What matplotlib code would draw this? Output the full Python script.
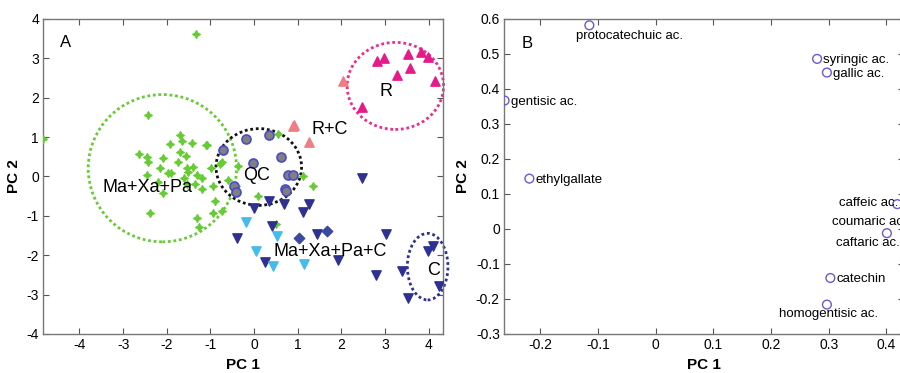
import matplotlib
matplotlib.use("Agg")
import matplotlib.pyplot as plt
from matplotlib.patches import Ellipse

plt.rcParams['font.family'] = ['Liberation Sans', 'DejaVu Sans']
plt.rcParams['axes.unicode_minus'] = False

# Panel A - scores
stars_x = [-1.34, -4.83, -2.43, -1.70, -1.66, -1.93, -1.43, -1.10, -1.70, -2.64, -2.45, -2.08,
           -1.57, -1.74, -2.42, -2.16, -1.54, -1.39, -1.97, -1.91, -2.46, -1.51, -1.31, -1.19,
           -0.99, -0.74, -1.54, -1.35, -2.08, -1.19, -0.95, -0.89, -0.59, -2.39, -1.31, -0.93,
           -0.74, -1.25, 0.10, 0.50, 1.35, 1.13, 0.56, -0.36, -0.78, -1.08, -0.42, -1.60, -2.20]
stars_y = [3.63, 0.94, 1.55, 1.05, 0.90, 0.83, 0.85, 0.81, 0.62, 0.58, 0.49, 0.47,
           0.52, 0.38, 0.37, 0.21, 0.21, 0.24, 0.08, 0.08, 0.03, 0.11, 0.03, -0.03,
           0.21, 0.37, -0.19, -0.19, -0.42, -0.31, -0.23, -0.61, -0.08, -0.93, -1.06, -0.93,
           -0.87, -1.29, -0.50, -1.21, -0.23, 0.01, 1.07, 0.26, 0.32, 0.81, -0.25, -0.05, -0.15]

qc_x = [-0.70, -0.18, 0.35, -0.02, 0.62, 0.77, 0.90, 0.70, 0.73, -0.45, -0.41]
qc_y = [0.66, 0.96, 1.06, 0.35, 0.49, 0.03, 0.03, -0.31, -0.38, -0.25, -0.40]

navy_x = [0.35, 0.69, 0.00, 1.25, 1.13, 0.41, -0.38, 1.45, 3.02, 0.25, 1.93, 2.80,
          3.40, 3.54, 3.98, 4.10, 4.25, 2.47]
navy_y = [-0.63, -0.70, -0.81, -0.70, -0.89, -1.27, -1.56, -1.46, -1.46, -2.17, -2.11, -2.51,
          -2.41, -3.08, -1.90, -1.76, -2.78, -0.03]

diam_x = [1.02, 1.67]
diam_y = [-1.55, -1.39]

light_x = [-0.18, 0.52, 0.05, 0.44, 1.15]
light_y = [-1.15, -1.50, -1.89, -2.27, -2.21]

pink_x = [2.83, 2.97, 3.52, 3.82, 3.98, 3.58, 3.27, 4.14, 2.48]
pink_y = [2.93, 3.00, 3.10, 3.17, 3.04, 2.76, 2.59, 2.42, 1.77]

salmon_x = [2.03, 0.89, 0.92, 1.25]
salmon_y = [2.42, 1.27, 1.30, 0.87]

# Panel B - loadings
load_names = ['protocatechuic ac.', 'syringic ac.', 'gallic ac.', 'gentisic ac.', 'ethylgallate',
              'caffeic ac.', 'coumaric ac.', 'caftaric ac.', 'catechin', 'homogentisic ac.']
load_x = [-0.115, 0.280, 0.297, -0.262, -0.219, 0.419, 0.445, 0.401, 0.303, 0.297]
load_y = [0.582, 0.486, 0.447, 0.367, 0.144, 0.071, 0.021, -0.012, -0.140, -0.216]

fig = plt.figure(figsize=(9, 3.73), dpi=100)
axA = fig.add_axes([0.0481, 0.1046, 0.4445, 0.8445])
axB = fig.add_axes([0.5600, 0.1046, 0.4440, 0.8445])

for ax in (axA, axB):
    ax.tick_params(direction='in', top=True, right=True, labelsize=10, length=4,
                   color='#555555', pad=3)
    for s in ax.spines.values():
        s.set_color('#777777')
        s.set_linewidth(1.0)

# ---- A ----
axA.scatter(stars_x, stars_y, marker=(4, 1, 0), s=30, color='#66cc33', zorder=3)
axA.scatter(qc_x, qc_y, marker='o', s=42, facecolor='#808080', edgecolor='#4a4acc',
            linewidth=1.2, zorder=4)
axA.scatter(navy_x, navy_y, marker='v', s=45, color='#2e3192', zorder=3)
axA.scatter(diam_x, diam_y, marker='D', s=28, color='#3a4aa0', zorder=3)
axA.scatter(light_x, light_y, marker='v', s=45, color='#45bbee', zorder=3)
axA.scatter(pink_x, pink_y, marker='^', s=45, color='#e8198b', zorder=3)
axA.scatter(salmon_x, salmon_y, marker='^', s=45, color='#f07c84', zorder=3)

ells = [((-2.10, 0.21), 3.40, 3.74, '#66cc33'),
        ((0.11, 0.24), 1.96, 1.95, '#111111'),
        ((3.24, 2.30), 2.21, 2.21, '#ee2c8a'),
        ((3.98, -2.29), 0.93, 1.69, '#2e3192')]
for c, w, h, col in ells:
    axA.add_patch(Ellipse(c, w, h, fill=False, linestyle=(0, (1, 1)), linewidth=2,
                          edgecolor=col, clip_on=False, zorder=2))

axA.text(-4.33, 3.4, 'A', fontsize=12, ha='center', va='center')
axA.text(-2.43, -0.29, 'Ma+Xa+Pa', fontsize=13, ha='center', va='center', zorder=5)
axA.text(0.06, 0.03, 'QC', fontsize=13, ha='center', va='center', zorder=5)
axA.text(1.73, 1.20, 'R+C', fontsize=13, ha='center', va='center', zorder=5)
axA.text(3.02, 2.17, 'R', fontsize=13, ha='center', va='center', zorder=5)
axA.text(1.74, -1.91, 'Ma+Xa+Pa+C', fontsize=13, ha='center', va='center', zorder=5)
axA.text(4.11, -2.38, 'C', fontsize=13, ha='center', va='center', zorder=5)

axA.set_xlim(-4.83, 4.34)
axA.set_ylim(-4, 4)
axA.set_xticks(range(-4, 5))
axA.set_yticks(range(-4, 5))
axA.set_xlabel('PC 1', fontsize=11, fontweight='bold')
axA.set_ylabel('PC 2', fontsize=11, fontweight='bold')

# ---- B ----
axB.scatter(load_x, load_y, marker='o', s=40, facecolor='none', edgecolor='#6a5acd',
            linewidth=1, zorder=3)
offs = {'protocatechuic ac.': (-0.139, 0.551, 'left'),
        'syringic ac.': (0.291, 0.483, 'left'),
        'gallic ac.': (0.308, 0.444, 'left'),
        'gentisic ac.': (-0.251, 0.364, 'left'),
        'ethylgallate': (-0.208, 0.141, 'left'),
        'caffeic ac.': (0.421, 0.073, 'right'),
        'coumaric ac.': (0.306, 0.021, 'left'),
        'caftaric ac.': (0.312, -0.040, 'left'),
        'catechin': (0.314, -0.143, 'left'),
        'homogentisic ac.': (0.300, -0.243, 'center')}
for name in load_names:
    tx, ty, ha = offs[name]
    axB.text(tx, ty, name, fontsize=9.5, ha=ha, va='center')
axB.text(-0.223, 0.53, 'B', fontsize=12, ha='center', va='center')

axB.set_xlim(-0.263, 0.43)
axB.set_ylim(-0.3, 0.6)
axB.set_xticks([-0.2, -0.1, 0, 0.1, 0.2, 0.3, 0.4])
axB.set_xticklabels(['-0.2', '-0.1', '0', '0.1', '0.2', '0.3', '0.4'])
axB.set_yticks([-0.3, -0.2, -0.1, 0, 0.1, 0.2, 0.3, 0.4, 0.5, 0.6])
axB.set_yticklabels(['-0.3', '-0.2', '-0.1', '0', '0.1', '0.2', '0.3', '0.4', '0.5', '0.6'])
axB.set_xlabel('PC 1', fontsize=11, fontweight='bold')
axB.set_ylabel('PC 2', fontsize=11, fontweight='bold')

fig.savefig('out.png', dpi=100)
